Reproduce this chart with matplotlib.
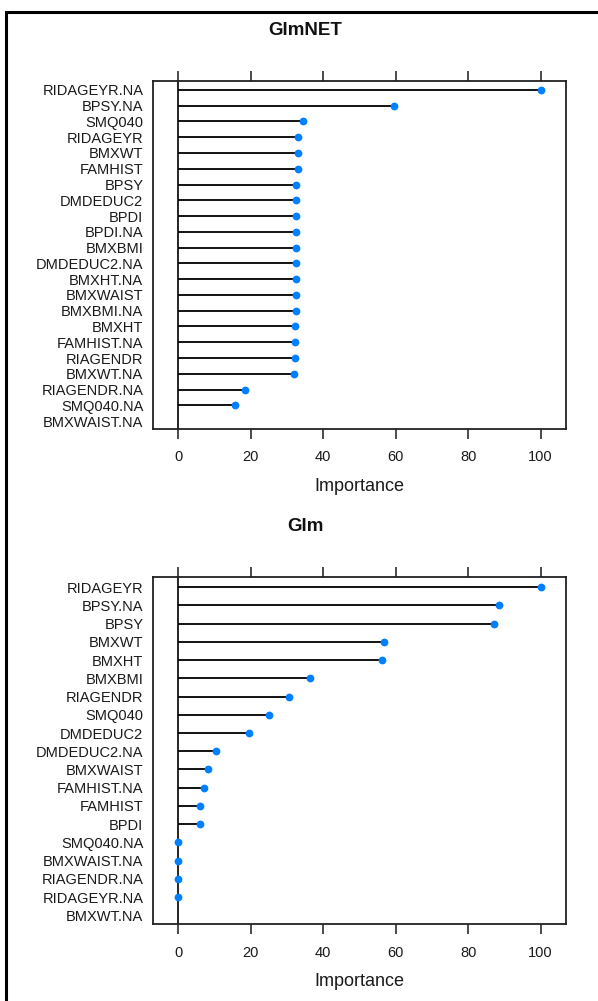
import numpy as np
import matplotlib
matplotlib.use("Agg")
import matplotlib.pyplot as plt
from matplotlib.patches import Rectangle

plt.rcParams["font.family"] = ["Liberation Sans", "DejaVu Sans"]

# GlmNET variable importance (top -> bottom)
glmnet_vars = [
    "RIDAGEYR.NA", "BPSY.NA", "SMQ040", "RIDAGEYR", "BMXWT", "FAMHIST",
    "BPSY", "DMDEDUC2", "BPDI", "BPDI.NA", "BMXBMI", "DMDEDUC2.NA",
    "BMXHT.NA", "BMXWAIST", "BMXBMI.NA", "BMXHT", "FAMHIST.NA", "RIAGENDR",
    "BMXWT.NA", "RIAGENDR.NA", "SMQ040.NA", "BMXWAIST.NA",
]
glmnet_imp = [
    100, 59.5, 34.3, 33.0, 33.0, 33.0,
    32.6, 32.6, 32.6, 32.6, 32.6, 32.6,
    32.6, 32.6, 32.6, 32.2, 32.2, 32.2,
    31.8, 18.4, 15.5, np.nan,
]

# Glm variable importance (top -> bottom)
glm_vars = [
    "RIDAGEYR", "BPSY.NA", "BPSY", "BMXWT", "BMXHT", "BMXBMI", "RIAGENDR",
    "SMQ040", "DMDEDUC2", "DMDEDUC2.NA", "BMXWAIST", "FAMHIST.NA", "FAMHIST",
    "BPDI", "SMQ040.NA", "BMXWAIST.NA", "RIAGENDR.NA", "RIDAGEYR.NA", "BMXWT.NA",
]
glm_imp = [
    100, 88.5, 87.0, 56.8, 56.3, 36.4, 30.6,
    24.9, 19.5, 10.3, 8.2, 7.0, 6.1,
    6.1, 0, 0, 0, 0, np.nan,
]

xticks = [0, 20, 40, 60, 80, 100]

W, H = 598, 1001
fig = plt.figure(figsize=(W / 100, H / 100), dpi=100)
fig.patch.set_facecolor("white")

# cadre extérieur (coupé à droite et en bas)
fig.patches.append(Rectangle((6 / W, -0.02), 1.05, 1 - 12 / H + 0.02,
                             transform=fig.transFigure, fill=False,
                             edgecolor="black", linewidth=2.2))

txt = "#1a1a1a"


def lollipop(rect, names, values, title, title_y):
    ax = fig.add_axes(rect)
    n = len(names)
    y = np.arange(1, n + 1)
    vals = np.array(values, dtype=float)
    ok = ~np.isnan(vals)
    ax.axvline(0, color="black", linewidth=1.2, zorder=1)
    ax.hlines(y[ok], 0, vals[ok], color="black", linewidth=1.3, zorder=2)
    ax.plot(vals[ok], y[ok], "o", color="#0080ff", markersize=5.6,
            markeredgewidth=0, zorder=3)
    ax.set_xlim(-7, 107)
    ax.set_ylim(n + 0.48, 0.42)
    ax.set_yticks(y)
    ax.set_yticklabels(names, fontsize=10.5, color=txt)
    ax.tick_params(axis="y", length=0, pad=7)
    ax.set_xticks(xticks)
    ax.set_xticklabels([str(t) for t in xticks], fontsize=10.5, color=txt)
    ax.tick_params(axis="x", which="both", top=True, bottom=True,
                   length=7, width=1.1, direction="out", pad=8.5,
                   color="#1a1a1a")
    for s in ax.spines.values():
        s.set_color("#222222")
        s.set_linewidth(1.3)
    ax.set_xlabel("Importance", fontsize=13, color=txt, labelpad=10)
    fig.text(305 / W, 1 - title_y / H, title, ha="center", va="center",
             fontsize=13.5, fontweight="bold", color="#111111")
    return ax


lollipop([153 / W, 1 - 428.7 / H, 413 / W, 348 / H],
         glmnet_vars, glmnet_imp, "GlmNET", 30.7)
lollipop([153 / W, 1 - 924 / H, 413 / W, 347.3 / H],
         glm_vars, glm_imp, "Glm", 526.7)

fig.savefig("out.png", dpi=100)
